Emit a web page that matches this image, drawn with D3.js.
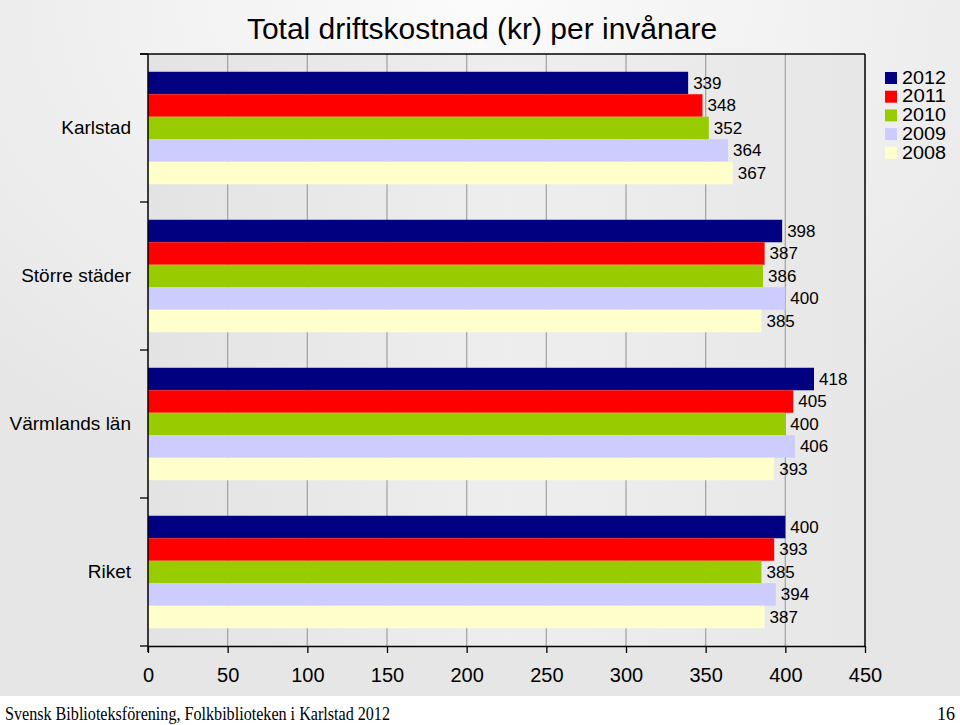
<!DOCTYPE html>
<html><head><meta charset="utf-8">
<script src="https://cdn.jsdelivr.net/npm/d3@7"></script>
<style>body{margin:0;background:#fff}svg{display:block}</style>
</head><body>
<svg id="c" width="960" height="725"></svg>
<script>
const categories = ["Karlstad", "Större städer", "Värmlands län", "Riket"];
const years = ["2012", "2011", "2010", "2009", "2008"];
const colors = ["#000080", "#ff0000", "#99cc00", "#ccccff", "#ffffcc"];
const v2012 = [339, 398, 418, 400];
const v2011 = [348, 387, 405, 393];
const v2010 = [352, 386, 400, 385];
const v2009 = [364, 400, 406, 394];
const v2008 = [367, 385, 393, 387];
const xTicks = [0, 50, 100, 150, 200, 250, 300, 350, 400, 450];
const series = [v2012, v2011, v2010, v2009, v2008];
const FONT = "Liberation Sans, Arial, sans-serif";

const svg = d3.select("#c");
const defs = svg.append("defs");
const rg = defs.append("radialGradient").attr("id","bg").attr("cx","50%").attr("cy","0%").attr("r","75%");
rg.append("stop").attr("offset","0%").attr("stop-color","#fbfbfb");
rg.append("stop").attr("offset","100%").attr("stop-color","#e6e6e6");
const pg = defs.append("linearGradient").attr("id","pg").attr("x1","0%").attr("x2","100%");
pg.append("stop").attr("offset","0%").attr("stop-color","#e3e3e3");
pg.append("stop").attr("offset","50%").attr("stop-color","#eeeeee");
pg.append("stop").attr("offset","100%").attr("stop-color","#e7e7e7");

svg.append("rect").attr("width",960).attr("height",725).attr("fill","#fff");
svg.append("rect").attr("width",960).attr("height",696).attr("fill","url(#bg)");

const L = 148, R = 865, T = 54, B = 646;
const x = d3.scaleLinear().domain([0,450]).range([L,R]);
const y0 = d3.scaleBand().domain(categories).range([T,B]);
const gap = y0.bandwidth()*0.12;
const y1 = d3.scaleBand().domain(years).range([gap, y0.bandwidth()-gap]);

svg.append("rect").attr("x",L).attr("y",T).attr("width",R-L).attr("height",B-T).attr("fill","url(#pg)");

// grid
svg.append("g").selectAll("line").data(xTicks.slice(1,-1)).join("line")
  .attr("x1",d=>x(d)).attr("x2",d=>x(d)).attr("y1",T).attr("y2",B)
  .attr("stroke","#a6a6a6").attr("stroke-width",1.3);

// bars
const g = svg.append("g");
categories.forEach((c,ci)=>{
  years.forEach((yr,yi)=>{
    const v = series[yi][ci];
    g.append("rect").attr("x",x(0)).attr("y",y0(c)+y1(yr))
      .attr("width",x(v)-x(0)).attr("height",y1.bandwidth()).attr("fill",colors[yi]);
    g.append("text").attr("x",x(v)+5).attr("y",y0(c)+y1(yr)+y1.bandwidth()/2+1.5)
      .attr("dominant-baseline","middle").attr("font-family",FONT)
      .attr("font-size",17).attr("fill","#000").text(v);
  });
});

// frame
svg.append("line").attr("x1",140).attr("x2",R).attr("y1",T).attr("y2",T).attr("stroke","#000").attr("stroke-width",1.5);
svg.append("line").attr("x1",R).attr("x2",R).attr("y1",T).attr("y2",B).attr("stroke","#000").attr("stroke-width",1.5);

// x axis
const xa = svg.append("g").attr("transform",`translate(0,${B})`)
  .call(d3.axisBottom(x).tickValues(xTicks).tickSize(7).tickSizeOuter(0).tickPadding(15));
xa.select(".domain").attr("stroke","#000").attr("stroke-width",1.5);
xa.selectAll(".tick line").attr("stroke","#000").attr("stroke-width",1.3);
xa.selectAll("text").attr("font-family",FONT).attr("font-size",20).attr("fill","#000");

// y axis
const ya = svg.append("g").attr("transform",`translate(${L},0)`);
ya.append("line").attr("x1",0).attr("x2",0).attr("y1",T).attr("y2",B+6).attr("stroke","#000").attr("stroke-width",1.5);
const bounds = categories.map(c=>y0(c)).concat([B]);
ya.selectAll("line.t").data(bounds).join("line").attr("class","t")
  .attr("x1",-8).attr("x2",0).attr("y1",d=>d).attr("y2",d=>d).attr("stroke","#000").attr("stroke-width",1.3);
ya.selectAll("text").data(categories).join("text")
  .attr("x",-17).attr("y",d=>y0(d)+y0.bandwidth()/2+1).attr("dominant-baseline","middle")
  .attr("text-anchor","end").attr("font-family",FONT).attr("font-size",19).text(d=>d);

// title
svg.append("text").attr("x",482).attr("y",31).attr("text-anchor","middle").attr("dominant-baseline","middle")
  .attr("font-family",FONT).attr("font-size",30).text("Total driftskostnad (kr) per invånare");

// legend
const lg = svg.append("g").attr("transform","translate(885,72)");
years.forEach((yr,i)=>{
  lg.append("rect").attr("x",0).attr("y",i*18.7).attr("width",12).attr("height",12).attr("fill",colors[i]);
  lg.append("text").attr("x",17).attr("y",i*18.7+7).attr("dominant-baseline","middle")
    .attr("font-family",FONT).attr("font-size",18).attr("textLength",44).attr("lengthAdjust","spacingAndGlyphs").text(yr);
});

// footer
svg.append("text").attr("x",5).attr("y",720).attr("font-family","Liberation Serif, serif").attr("font-size",19)
  .attr("textLength",385).attr("lengthAdjust","spacingAndGlyphs")
  .text("Svensk Biblioteksförening, Folkbiblioteken i Karlstad 2012");
svg.append("text").attr("x",955).attr("y",720).attr("text-anchor","end").attr("font-family","Liberation Serif, serif").attr("font-size",18).text("16");
</script>
</body></html>
